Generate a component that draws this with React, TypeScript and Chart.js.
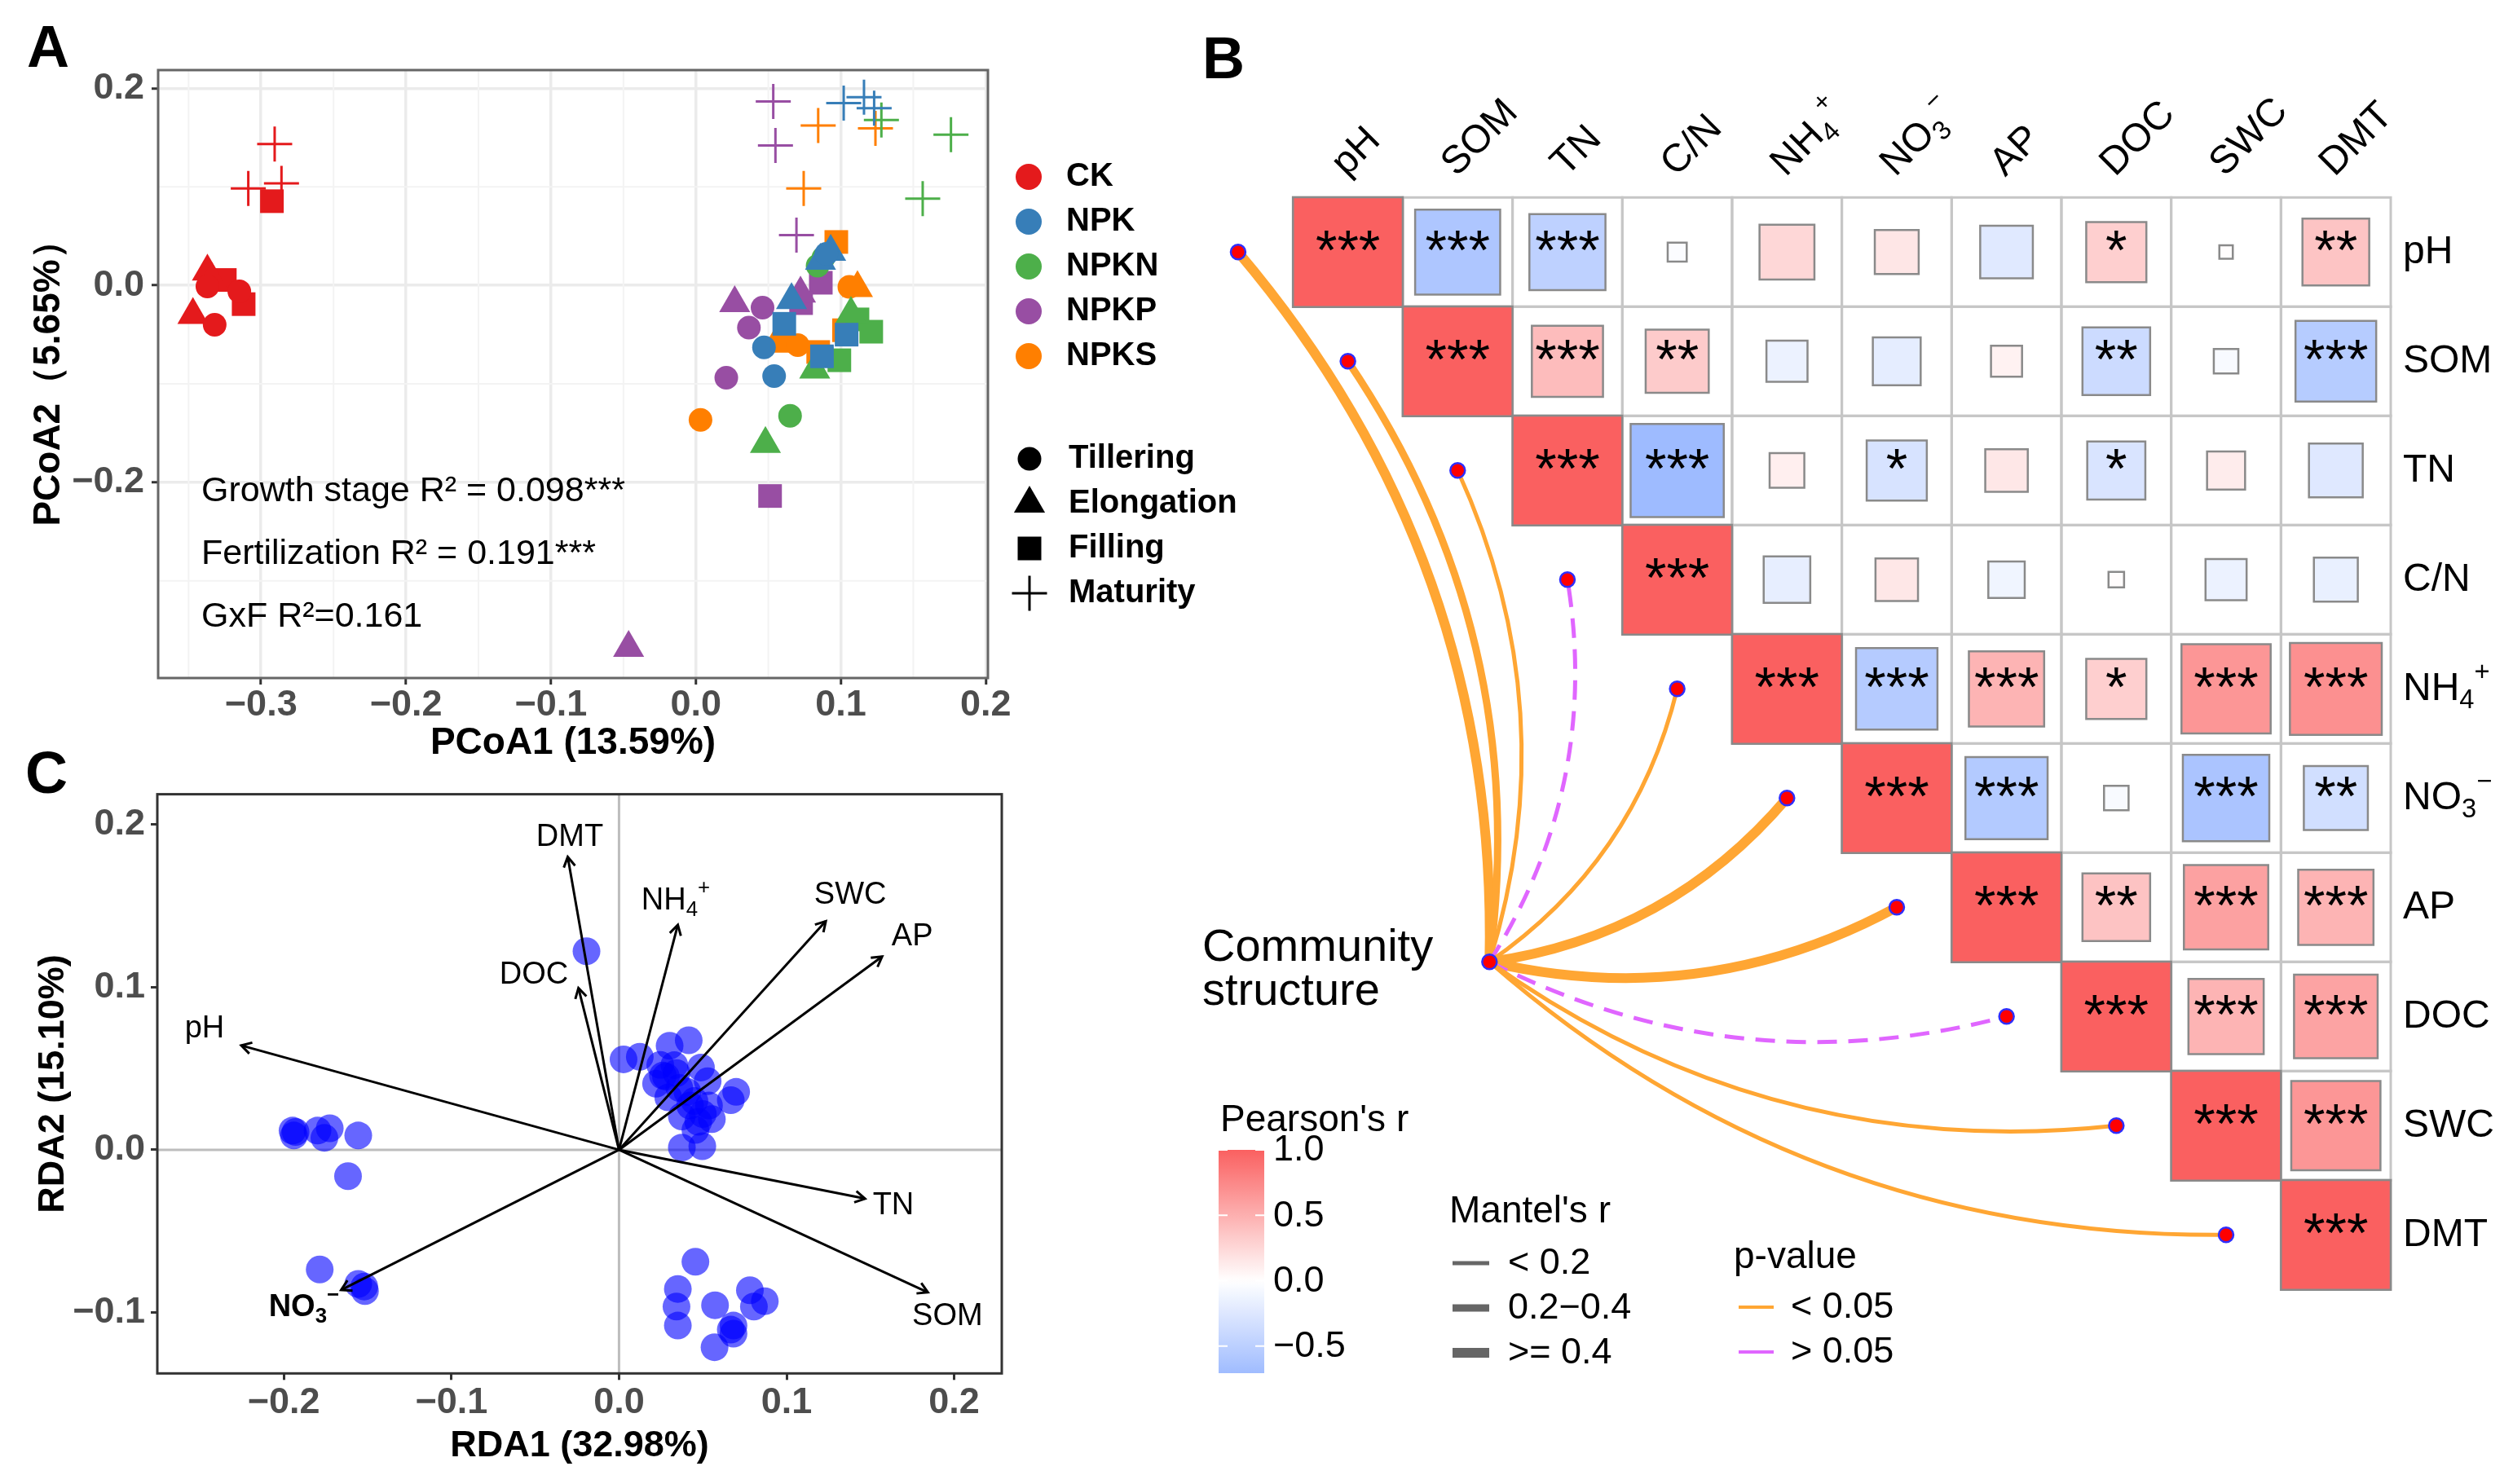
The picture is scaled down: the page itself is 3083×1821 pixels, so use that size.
import React, { useEffect, useRef } from 'react';
import { Chart, registerables } from 'chart.js';

Chart.register(...registerables);

const FONT = '"Liberation Sans", Arial, Helvetica, sans-serif';

/* =================== Panel A : PCoA =================== */
const pcoaGroups = ['CK', 'NPK', 'NPKN', 'NPKP', 'NPKS'];
const pcoaColors = ['#E41A1C', '#377EB8', '#4DAF4A', '#984EA3', '#FF7F00'];
const pcoaStages = ['Tillering', 'Elongation', 'Filling', 'Maturity'];
const pcoaXTicks = [-0.3, -0.2, -0.1, 0, 0.1, 0.2];
const pcoaXMinor = [-0.35, -0.25, -0.15, -0.05, 0.05, 0.15];
const pcoaYTicks = [-0.2, 0, 0.2];
const pcoaYMinor = [-0.3, -0.1, 0.1];
const pcoaXRange = [-0.371, 0.2015];
const pcoaYRange = [-0.3986, 0.2186];
// [PCoA1, PCoA2, stage index]
const pcoaCK = [
  [-0.337, -0.001, 0], [-0.315, -0.006, 0], [-0.332, -0.04, 0],
  [-0.337, 0.014, 1], [-0.347, -0.03, 1], [-0.334, 0.006, 1],
  [-0.2925, 0.0855, 2], [-0.325, 0.0055, 2], [-0.312, -0.019, 2],
  [-0.2906, 0.1435, 3], [-0.3088, 0.0985, 3], [-0.2859, 0.1035, 3],
];
const pcoaNPK = [
  [0.047, -0.063, 0], [0.054, -0.092, 0], [0.09, 0.032, 0],
  [0.086, 0.025, 1], [0.093, 0.034, 1], [0.066, -0.015, 1],
  [0.061, -0.039, 2], [0.087, -0.072, 2], [0.104, -0.05, 2],
  [0.102, 0.185, 3], [0.116, 0.191, 3], [0.123, 0.18, 3],
];
const pcoaNPKN = [
  [0.088, 0.028, 0], [0.065, -0.1325, 0], [0.084, 0.02, 0],
  [0.107, -0.029, 1], [0.082, -0.0855, 1], [0.048, -0.161, 1],
  [0.1115, -0.0345, 2], [0.121, -0.047, 2], [0.099, -0.076, 2],
  [0.128, 0.168, 3], [0.176, 0.153, 3], [0.1565, 0.088, 3],
];
const pcoaNPKP = [
  [0.046, -0.0226, 0], [0.0366, -0.0428, 0], [0.021, -0.0938, 0],
  [0.0268, -0.018, 1], [0.0722, -0.0083, 1], [-0.0464, -0.368, 1],
  [0.0862, 0.0027, 2], [0.0726, -0.018, 2], [0.0512, -0.2138, 2],
  [0.0534, 0.1868, 3], [0.0549, 0.1421, 3], [0.0694, 0.0511, 3],
];
const pcoaNPKS = [
  [0.1059, -0.0014, 0], [0.0703, -0.0607, 0], [0.0032, -0.1366, 0],
  [0.1115, -0.0028, 1], [0.0553, -0.0591, 1], [0.062, -0.058, 1],
  [0.0969, 0.0441, 2], [0.0844, -0.0676, 2], [0.1022, -0.0455, 2],
  [0.0844, 0.1623, 3], [0.0744, 0.0985, 3], [0.1239, 0.1595, 3],
];
const pcoaPoints = [pcoaCK, pcoaNPK, pcoaNPKN, pcoaNPKP, pcoaNPKS];
const pcoaNotes = ['Growth stage R\u00B2 = 0.098***', 'Fertilization R\u00B2 = 0.191***', 'GxF R\u00B2=0.161'];

/* =================== Panel C : RDA =================== */
const rdaXTicks = [-0.2, -0.1, 0, 0.1, 0.2];
const rdaYTicks = [-0.1, 0, 0.1, 0.2];
const rdaXRange = [-0.2755, 0.2284];
const rdaYRange = [-0.1374, 0.2185];
const rdaSites = [
  [-0.1948, 0.0118], [-0.194, 0.0088], [-0.193, 0.011], [-0.1799, 0.0118], [-0.1726, 0.0132],
  [-0.1758, 0.0074], [-0.1556, 0.0088], [-0.1617, -0.0162], [-0.1786, -0.0735], [-0.1556, -0.0824],
  [-0.1516, -0.0868], [-0.152, -0.084],
  [-0.0194, 0.122],
  [0.0027, 0.0556], [0.0124, 0.0572], [0.0302, 0.0639], [0.0416, 0.0673], [0.0246, 0.0522],
  [0.0262, 0.0456], [0.0221, 0.0406], [0.0489, 0.0506], [0.0529, 0.0422], [0.0294, 0.0322],
  [0.0408, 0.0356], [0.0699, 0.0356], [0.0667, 0.0305], [0.0537, 0.0272], [0.0375, 0.0205],
  [0.0473, 0.0172], [0.0554, 0.0189], [0.0456, 0.0122], [0.0375, 0.0014], [0.0497, 0.0022],
  [0.0343, 0.0472], [0.0424, 0.0272], [0.028, 0.045], [0.036, 0.038], [0.045, 0.03],
  [0.05, 0.022], [0.033, 0.052],
  [0.0456, -0.0688], [0.0351, -0.0855], [0.0343, -0.0963], [0.0351, -0.108], [0.0573, -0.0955],
  [0.057, -0.1213], [0.0683, -0.108], [0.0683, -0.113], [0.0667, -0.1105], [0.0781, -0.0863],
  [0.0805, -0.0963], [0.087, -0.093],
];
const rdaEnv = ['pH', 'DMT', 'DOC', 'NH4+', 'SWC', 'AP', 'TN', 'SOM', 'NO3-'];
const rdaEnvX = [-0.2254, -0.0306, -0.0242, 0.0351, 0.1234, 0.157, 0.1468, 0.1843, -0.1658];
const rdaEnvY = [0.0641, 0.18, 0.0994, 0.1382, 0.1405, 0.1188, -0.03, -0.0876, -0.0861];
const rdaLabX = [-0.2473, -0.0294, -0.0508, 0.0338, 0.138, 0.175, 0.1637, 0.196, -0.188];
const rdaLabY = [0.0741, 0.1918, 0.1074, 0.153, 0.1565, 0.131, -0.0345, -0.1024, -0.097];

/* =================== Panel B : correlogram + Mantel =================== */
const corVars = ['pH', 'SOM', 'TN', 'C/N', 'NH4+', 'NO3-', 'AP', 'DOC', 'SWC', 'DMT'];
// upper triangle rows, starting from the diagonal
const corPH = [1, -0.6, -0.48, -0.03, 0.25, 0.16, -0.23, 0.3, 0.015, 0.37];
const corSOM = [1, 0.42, 0.33, -0.14, -0.19, 0.08, -0.38, -0.05, -0.54];
const corTN = [1, -0.72, 0.1, -0.3, 0.15, -0.28, 0.12, -0.24];
const corCN = [1, -0.18, 0.15, -0.11, 0.02, -0.14, -0.16];
const corNH4 = [1, -0.55, 0.47, 0.3, 0.66, 0.7];
const corNO3 = [1, -0.56, -0.05, -0.62, -0.34];
const corAP = [1, 0.38, 0.59, 0.47];
const corDOC = [1, 0.47, 0.58];
const corSWC = [1, 0.66];
const corDMT = [1];
const corRows = [corPH, corSOM, corTN, corCN, corNH4, corNO3, corAP, corDOC, corSWC, corDMT];
const sigPH = ['***', '***', '***', '', '', '', '', '*', '', '**'];
const sigSOM = ['***', '***', '**', '', '', '', '**', '', '***'];
const sigTN = ['***', '***', '', '*', '', '*', '', ''];
const sigCN = ['***', '', '', '', '', '', ''];
const sigNH4 = ['***', '***', '***', '*', '***', '***'];
const sigNO3 = ['***', '***', '', '***', '**'];
const sigAP = ['***', '**', '***', '***'];
const sigDOC = ['***', '***', '***'];
const sigSWC = ['***', '***'];
const sigDMT = ['***'];
const sigRows = [sigPH, sigSOM, sigTN, sigCN, sigNH4, sigNO3, sigAP, sigDOC, sigSWC, sigDMT];
const mantelR = ['>= 0.4', '0.2-0.4', '< 0.2', '< 0.2', '< 0.2', '>= 0.4', '>= 0.4', '< 0.2', '< 0.2', '< 0.2'];
const mantelP = ['< 0.05', '< 0.05', '< 0.05', '> 0.05', '< 0.05', '< 0.05', '< 0.05', '> 0.05', '< 0.05', '< 0.05'];
const mantelRClasses = ['< 0.2', '0.2-0.4', '>= 0.4'];
const mantelRLabels = ['< 0.2', '0.2\u22120.4', '>= 0.4'];
const mantelPClasses = ['< 0.05', '> 0.05'];
const communityNode = [1.29, 6.5];
const pearsonTicks = [1.0, 0.5, 0.0, -0.5];
const pearsonLimits = [-0.707, 1.0];

/* =================== helpers =================== */
const RED = [250, 96, 96];
const BLUE = [120, 160, 255];
function corColor(r: number) {
  const c = r >= 0 ? RED : BLUE;
  const t = Math.min(1, Math.abs(r));
  const m = (k: number) => Math.round(255 + (c[k] - 255) * t);
  return `rgb(${m(0)},${m(1)},${m(2)})`;
}
function fmtTick(v: number) {
  if (Math.abs(v) < 1e-9) return '0.0';
  return (v < 0 ? '\u2212' : '') + Math.abs(v).toFixed(1);
}
function richParts(name: string) {
  if (name === 'NH4+') return [{ t: 'NH' }, { t: '4', sub: true }, { t: '+', sup: true }];
  if (name === 'NO3-') return [{ t: 'NO' }, { t: '3', sub: true }, { t: '\u2212', sup: true }];
  return [{ t: name }];
}
function drawRich(ctx: any, name: string, x: number, y: number, size: number, align: string, weight = 'normal', color = '#000') {
  const parts: any[] = richParts(name);
  const small = size * 0.68;
  const widths = parts.map((p) => {
    ctx.font = `${weight} ${p.sub || p.sup ? small : size}px ${FONT}`;
    return ctx.measureText(p.t).width;
  });
  const total = widths.reduce((a, b) => a + b, 0);
  let cx = align === 'center' ? x - total / 2 : x;
  ctx.textAlign = 'left';
  ctx.textBaseline = 'middle';
  ctx.fillStyle = color;
  parts.forEach((p, i) => {
    ctx.font = `${weight} ${p.sub || p.sup ? small : size}px ${FONT}`;
    const dy = p.sub ? size * 0.3 : p.sup ? -size * 0.4 : 0;
    ctx.fillText(p.t, cx, y + dy);
    cx += widths[i];
  });
}
function drawShape(ctx: any, style: string, x: number, y: number, r: number, color: string, lw: number) {
  ctx.beginPath();
  if (style === 'circle') {
    ctx.arc(x, y, r, 0, Math.PI * 2);
    ctx.fillStyle = color;
    ctx.fill();
  } else if (style === 'triangle') {
    ctx.moveTo(x, y - r);
    ctx.lineTo(x + r * Math.sin((2 * Math.PI) / 3), y + r * 0.5);
    ctx.lineTo(x - r * Math.sin((2 * Math.PI) / 3), y + r * 0.5);
    ctx.closePath();
    ctx.fillStyle = color;
    ctx.fill();
  } else if (style === 'rect') {
    const h = r * Math.SQRT1_2;
    ctx.rect(x - h, y - h, 2 * h, 2 * h);
    ctx.fillStyle = color;
    ctx.fill();
  } else {
    ctx.moveTo(x - r, y);
    ctx.lineTo(x + r, y);
    ctx.moveTo(x, y - r);
    ctx.lineTo(x, y + r);
    ctx.strokeStyle = color;
    ctx.lineWidth = lw;
    ctx.stroke();
  }
}
const stageStyles = ['circle', 'triangle', 'rect', 'cross'];
const stageRadius = [14.5, 22, 20.5, 21.5];

const baseOptions: any = {
  animation: false,
  responsive: false,
  devicePixelRatio: 1,
  events: [],
  plugins: { legend: { display: false }, tooltip: { enabled: false } },
};

/* =================== config builders =================== */
function configA(): any {
  const datasets: any[] = [];
  pcoaPoints.forEach((pts, g) => {
    pcoaStages.forEach((_, s) => {
      datasets.push({
        data: pts.filter((p) => p[2] === s).map((p) => ({ x: p[0], y: p[1] })),
        pointStyle: stageStyles[s],
        pointRadius: stageRadius[s],
        backgroundColor: s === 3 ? 'rgba(0,0,0,0)' : pcoaColors[g],
        borderColor: pcoaColors[g],
        borderWidth: s === 3 ? 3 : 0,
        showLine: false,
      });
    });
  });
  const tickFont = { family: FONT, size: 45, weight: 'bold', lineHeight: 1 };
  const plugin = {
    id: 'panelA',
    beforeDatasetsDraw(chart: any) {
      const { ctx, chartArea: a, scales } = chart;
      ctx.save();
      ctx.strokeStyle = '#F3F3F3';
      ctx.lineWidth = 2;
      pcoaXMinor.forEach((v) => {
        const x = scales.x.getPixelForValue(v);
        ctx.beginPath(); ctx.moveTo(x, a.top); ctx.lineTo(x, a.bottom); ctx.stroke();
      });
      pcoaYMinor.forEach((v) => {
        const y = scales.y.getPixelForValue(v);
        ctx.beginPath(); ctx.moveTo(a.left, y); ctx.lineTo(a.right, y); ctx.stroke();
      });
      ctx.restore();
    },
    afterDatasetsDraw(chart: any) {
      const { ctx, chartArea: a } = chart;
      ctx.save();
      ctx.strokeStyle = '#666666';
      ctx.lineWidth = 3;
      ctx.strokeRect(a.left, a.top, a.right - a.left, a.bottom - a.top);
      ctx.restore();
    },
    afterDraw(chart: any) {
      const { ctx, chartArea: a } = chart;
      ctx.save();
      ctx.fillStyle = '#000';
      ctx.textAlign = 'left';
      ctx.textBaseline = 'alphabetic';
      ctx.font = `bold 72px ${FONT}`;
      ctx.fillText('A', 33, 82);
      // notes
      ctx.font = `43px ${FONT}`;
      ctx.textBaseline = 'middle';
      pcoaNotes.forEach((t, i) => ctx.fillText(t, 247, 603 + i * 77));
      // axis titles
      ctx.font = `bold 46px ${FONT}`;
      ctx.textAlign = 'center';
      ctx.fillText('PCoA1 (13.59%)', (a.left + a.right) / 2, 912);
      ctx.save();
      ctx.translate(60, (a.top + a.bottom) / 2);
      ctx.rotate(-Math.PI / 2);
      ctx.fillText('PCoA2\uFF085.65%\uFF09', 0, 0);
      ctx.restore();
      // legends
      ctx.textAlign = 'left';
      ctx.font = `bold 40px ${FONT}`;
      pcoaGroups.forEach((g, i) => {
        const y = 217 + i * 55;
        drawShape(ctx, 'circle', 1262, y, 16, pcoaColors[i], 3);
        ctx.fillStyle = '#000';
        ctx.fillText(g, 1308, y);
      });
      pcoaStages.forEach((s, i) => {
        const y = 563 + i * 55;
        drawShape(ctx, stageStyles[i], 1263, y, stageRadius[i], '#000', 3);
        ctx.fillStyle = '#000';
        ctx.fillText(s, 1311, y);
      });
      ctx.restore();
    },
  };
  return {
    type: 'scatter',
    data: { datasets },
    options: {
      ...baseOptions,
      layout: { padding: { top: 86, right: 348, left: 0, bottom: 0 } },
      scales: {
        x: {
          type: 'linear', min: pcoaXRange[0], max: pcoaXRange[1],
          afterBuildTicks: (s: any) => { s.ticks = pcoaXTicks.map((v) => ({ value: v })); },
          afterFit: (s: any) => { s.height = 128; },
          ticks: { callback: (v: number) => fmtTick(v), font: tickFont, color: '#4D4D4D', padding: 3, maxRotation: 0, autoSkip: false },
          grid: { color: '#EBEBEB', lineWidth: 3.5, tickColor: '#333333', tickLength: 8, tickWidth: 3 },
          border: { display: false },
        },
        y: {
          type: 'linear', min: pcoaYRange[0], max: pcoaYRange[1],
          afterBuildTicks: (s: any) => { s.ticks = pcoaYTicks.map((v) => ({ value: v })); },
          afterFit: (s: any) => { s.width = 194; },
          ticks: { callback: (v: number) => fmtTick(v), font: tickFont, color: '#4D4D4D', padding: 9, autoSkip: false },
          grid: { color: '#EBEBEB', lineWidth: 3.5, tickColor: '#333333', tickLength: 8, tickWidth: 3 },
          border: { display: false },
        },
      },
    },
    plugins: [plugin],
  };
}

function configC(): any {
  const tickFont = { family: FONT, size: 45, weight: 'bold', lineHeight: 1 };
  const plugin = {
    id: 'panelC',
    beforeDatasetsDraw(chart: any) {
      const { ctx, chartArea: a, scales } = chart;
      ctx.save();
      ctx.strokeStyle = '#BDBDBD';
      ctx.lineWidth = 3;
      const x0 = scales.x.getPixelForValue(0);
      const y0 = scales.y.getPixelForValue(0);
      ctx.beginPath(); ctx.moveTo(x0, a.top); ctx.lineTo(x0, a.bottom); ctx.stroke();
      ctx.beginPath(); ctx.moveTo(a.left, y0); ctx.lineTo(a.right, y0); ctx.stroke();
      ctx.restore();
    },
    afterDatasetsDraw(chart: any) {
      const { ctx, chartArea: a, scales } = chart;
      ctx.save();
      const x0 = scales.x.getPixelForValue(0);
      const y0 = scales.y.getPixelForValue(0);
      ctx.strokeStyle = '#000';
      ctx.lineWidth = 3;
      rdaEnv.forEach((_, k) => {
        const x1 = scales.x.getPixelForValue(rdaEnvX[k]);
        const y1 = scales.y.getPixelForValue(rdaEnvY[k]);
        ctx.beginPath(); ctx.moveTo(x0, y0); ctx.lineTo(x1, y1); ctx.stroke();
        const ang = Math.atan2(y1 - y0, x1 - x0);
        const L = 14;
        ctx.beginPath();
        ctx.moveTo(x1 - L * Math.cos(ang - Math.PI / 6), y1 - L * Math.sin(ang - Math.PI / 6));
        ctx.lineTo(x1, y1);
        ctx.lineTo(x1 - L * Math.cos(ang + Math.PI / 6), y1 - L * Math.sin(ang + Math.PI / 6));
        ctx.stroke();
      });
      rdaEnv.forEach((name, k) => {
        const x = scales.x.getPixelForValue(rdaLabX[k]);
        const y = scales.y.getPixelForValue(rdaLabY[k]);
        drawRich(ctx, name, x, y, 38, 'center', name === 'NO3-' ? 'bold' : 'normal');
      });
      ctx.strokeStyle = '#333333';
      ctx.lineWidth = 3;
      ctx.strokeRect(a.left, a.top, a.right - a.left, a.bottom - a.top);
      ctx.restore();
    },
    afterDraw(chart: any) {
      const { ctx, chartArea: a } = chart;
      ctx.save();
      ctx.fillStyle = '#000';
      ctx.textAlign = 'left';
      ctx.textBaseline = 'alphabetic';
      ctx.font = `bold 72px ${FONT}`;
      ctx.fillText('C', 31, 73);
      ctx.font = `bold 45px ${FONT}`;
      ctx.textAlign = 'center';
      ctx.textBaseline = 'middle';
      ctx.fillText('RDA1 (32.98%)', (a.left + a.right) / 2, 875);
      ctx.save();
      ctx.translate(66, (a.top + a.bottom) / 2);
      ctx.rotate(-Math.PI / 2);
      ctx.fillText('RDA2 (15.10%)', 0, 0);
      ctx.restore();
      ctx.restore();
    },
  };
  return {
    type: 'scatter',
    data: {
      datasets: [{
        data: rdaSites.map((p) => ({ x: p[0], y: p[1] })),
        pointStyle: 'circle',
        pointRadius: 17,
        backgroundColor: 'rgba(0,0,255,0.6)',
        borderWidth: 0,
      }],
    },
    options: {
      ...baseOptions,
      layout: { padding: { top: 74.6, right: 211, left: 0, bottom: 0 } },
      scales: {
        x: {
          type: 'linear', min: rdaXRange[0], max: rdaXRange[1],
          afterBuildTicks: (s: any) => { s.ticks = rdaXTicks.map((v) => ({ value: v })); },
          afterFit: (s: any) => { s.height = 135.7; },
          ticks: { callback: (v: number) => fmtTick(v), font: tickFont, color: '#4D4D4D', padding: 6, maxRotation: 0, autoSkip: false },
          grid: { drawOnChartArea: false, tickColor: '#333333', tickLength: 8, tickWidth: 3 },
          border: { display: false },
        },
        y: {
          type: 'linear', min: rdaYRange[0], max: rdaYRange[1],
          afterBuildTicks: (s: any) => { s.ticks = rdaYTicks.map((v) => ({ value: v })); },
          afterFit: (s: any) => { s.width = 193; },
          ticks: { callback: (v: number) => fmtTick(v), font: tickFont, color: '#4D4D4D', padding: 7, autoSkip: false },
          grid: { drawOnChartArea: false, tickColor: '#333333', tickLength: 8, tickWidth: 3 },
          border: { display: false },
        },
      },
    },
    plugins: [plugin],
  };
}

const B_OFF_X = 1440;
const mantelWidth: any = { '< 0.2': 5, '0.2-0.4': 9, '>= 0.4': 12 };
const mantelColor: any = { '< 0.05': '#FFA633', '> 0.05': '#E066FF' };

function configB(): any {
  const n = corVars.length;
  const cells: any[] = [];
  corRows.forEach((row, i) => row.forEach((r, k) => cells.push({ x: i + k, y: i, r })));
  const ends: any[] = corVars.map((_, i) => ({ x: i - 1, y: i }));
  ends.push({ x: communityNode[0], y: communityNode[1] });
  const cellW = (chart: any) => Math.abs(chart.scales.x.getPixelForValue(1) - chart.scales.x.getPixelForValue(0));
  const plugin = {
    id: 'panelB',
    beforeDatasetsDraw(chart: any) {
      const { ctx, scales } = chart;
      const xs = scales.x, ys = scales.y;
      const cw = cellW(chart);
      const ch = Math.abs(ys.getPixelForValue(1) - ys.getPixelForValue(0));
      ctx.save();
      ctx.strokeStyle = '#C6C6C6';
      ctx.lineWidth = 3;
      for (let i = 0; i < n; i++) {
        for (let j = i; j < n; j++) {
          const cx = xs.getPixelForValue(j), cy = ys.getPixelForValue(i);
          ctx.strokeRect(cx - cw / 2, cy - ch / 2, cw, ch);
        }
      }
      // Mantel links
      const nx = xs.getPixelForValue(communityNode[0]);
      const ny = ys.getPixelForValue(communityNode[1]);
      const K = 0.19;
      for (let i = 0; i < n; i++) {
        const ex = xs.getPixelForValue(i - 1), ey = ys.getPixelForValue(i);
        const dx = ex - nx, dy = ey - ny;
        const qx = (nx + ex) / 2 - K * dy, qy = (ny + ey) / 2 + K * dx;
        ctx.beginPath();
        ctx.moveTo(nx, ny);
        ctx.quadraticCurveTo(qx, qy, ex, ey);
        ctx.lineWidth = mantelWidth[mantelR[i]];
        ctx.strokeStyle = mantelColor[mantelP[i]];
        ctx.setLineDash(mantelP[i] === '> 0.05' ? [24, 14] : []);
        ctx.lineCap = 'butt';
        ctx.stroke();
      }
      ctx.setLineDash([]);
      ctx.restore();
    },
    afterDatasetsDraw(chart: any) {
      const { ctx, scales } = chart;
      ctx.save();
      ctx.fillStyle = '#000';
      ctx.textAlign = 'center';
      ctx.textBaseline = 'middle';
      ctx.font = `68px ${FONT}`;
      sigRows.forEach((row, i) => row.forEach((s, k) => {
        if (!s) return;
        ctx.fillText(s, scales.x.getPixelForValue(i + k), scales.y.getPixelForValue(i) + 2);
      }));
      ctx.restore();
    },
    afterDraw(chart: any) {
      const { ctx, scales, chartArea: a } = chart;
      const xs = scales.x, ys = scales.y;
      const gridTop = ys.getPixelForValue(-0.5);
      const gridRight = xs.getPixelForValue(9.5);
      ctx.save();
      ctx.fillStyle = '#000';
      ctx.textAlign = 'left';
      ctx.textBaseline = 'alphabetic';
      ctx.font = `bold 72px ${FONT}`;
      ctx.fillText('B', 1475 - B_OFF_X, 96);
      // column labels
      corVars.forEach((v, j) => {
        ctx.save();
        ctx.translate(xs.getPixelForValue(j) - 11, gridTop - 34);
        ctx.rotate(-Math.PI / 4);
        drawRich(ctx, v, 0, 0, 48, 'left');
        ctx.restore();
      });
      // row labels
      corVars.forEach((v, i) => {
        drawRich(ctx, v, gridRight + 15, ys.getPixelForValue(i), 48, 'left');
      });
      // community label
      ctx.fillStyle = '#000';
      ctx.textAlign = 'left';
      ctx.textBaseline = 'middle';
      ctx.font = `56px ${FONT}`;
      ctx.fillText('Community', 1475 - B_OFF_X, 1164);
      ctx.fillText('structure', 1475 - B_OFF_X, 1218);
      // Pearson's r colorbar
      ctx.font = `46px ${FONT}`;
      ctx.textBaseline = 'alphabetic';
      ctx.fillText("Pearson's r", 1497 - B_OFF_X, 1388);
      const cbX0 = 1495 - B_OFF_X, cbX1 = 1551 - B_OFF_X, cbTop = 1411, cbBot = 1685;
      const lo = pearsonLimits[0], hi = pearsonLimits[1];
      const grad = ctx.createLinearGradient(0, cbTop, 0, cbBot);
      for (let k = 0; k <= 40; k++) {
        const v = hi - ((hi - lo) * k) / 40;
        grad.addColorStop(k / 40, corColor(v));
      }
      ctx.fillStyle = grad;
      ctx.fillRect(cbX0, cbTop, cbX1 - cbX0, cbBot - cbTop);
      const vy = (v: number) => cbTop + ((hi - v) / (hi - lo)) * (cbBot - cbTop);
      ctx.strokeStyle = '#FFFFFF';
      ctx.lineWidth = 2;
      pearsonTicks.forEach((v) => {
        const y = vy(v);
        ctx.beginPath();
        ctx.moveTo(cbX0, y); ctx.lineTo(cbX0 + 11, y);
        ctx.moveTo(cbX1 - 11, y); ctx.lineTo(cbX1, y);
        ctx.stroke();
      });
      ctx.fillStyle = '#000';
      ctx.font = `45px ${FONT}`;
      ctx.textBaseline = 'middle';
      pearsonTicks.forEach((v) => ctx.fillText(fmtTick(v), 1562 - B_OFF_X, vy(v) + 1));
      // Mantel's r legend
      ctx.font = `46px ${FONT}`;
      ctx.textBaseline = 'alphabetic';
      ctx.fillText("Mantel's r", 1778 - B_OFF_X, 1500);
      ctx.textBaseline = 'middle';
      ctx.font = `45px ${FONT}`;
      mantelRClasses.forEach((c, i) => {
        const y = 1550 + i * 55;
        ctx.strokeStyle = '#666666';
        ctx.lineWidth = mantelWidth[c];
        ctx.beginPath(); ctx.moveTo(1782 - B_OFF_X, y); ctx.lineTo(1827 - B_OFF_X, y); ctx.stroke();
        ctx.fillStyle = '#000';
        ctx.fillText(mantelRLabels[i], 1850 - B_OFF_X, y + 1);
      });
      // p-value legend
      ctx.font = `46px ${FONT}`;
      ctx.textBaseline = 'alphabetic';
      ctx.fillText('p-value', 2127 - B_OFF_X, 1556);
      ctx.textBaseline = 'middle';
      ctx.font = `45px ${FONT}`;
      mantelPClasses.forEach((c, i) => {
        const y = 1604 + i * 55;
        ctx.strokeStyle = mantelColor[c];
        ctx.lineWidth = 4;
        ctx.beginPath(); ctx.moveTo(2133 - B_OFF_X, y); ctx.lineTo(2176 - B_OFF_X, y); ctx.stroke();
        ctx.fillStyle = '#000';
        ctx.fillText(c, 2197 - B_OFF_X, y + 1);
      });
      ctx.restore();
    },
  };
  return {
    type: 'scatter',
    data: {
      datasets: [
        {
          data: cells,
          pointStyle: 'rect',
          pointRadius: (c: any) => (Math.sqrt(Math.abs(c.raw.r)) * cellW(c.chart)) / Math.SQRT2,
          backgroundColor: (c: any) => corColor(c.raw.r),
          borderColor: '#8A8A8A',
          borderWidth: 2.5,
          clip: false,
        },
        {
          data: ends,
          pointStyle: 'circle',
          pointRadius: 9,
          backgroundColor: '#FF0000',
          borderColor: '#2E2EFF',
          borderWidth: 2.5,
          clip: false,
        },
      ],
    },
    options: {
      ...baseOptions,
      layout: { padding: { left: 11.6, right: 150, top: 242.3, bottom: 238.7 } },
      scales: {
        x: { type: 'linear', min: -1.5, max: 9.5, display: false },
        y: { type: 'linear', min: -0.5, max: 9.5, reverse: true, display: false },
      },
    },
    plugins: [plugin],
  };
}

/* =================== components =================== */
function ChartBox(props: { left: number; top: number; width: number; height: number; make: () => any }) {
  const ref = useRef<HTMLCanvasElement | null>(null);
  useEffect(() => {
    if (!ref.current) return;
    const chart = new Chart(ref.current, props.make());
    return () => chart.destroy();
  }, []);
  return (
    <canvas
      ref={ref}
      width={props.width}
      height={props.height}
      style={{ position: 'absolute', left: props.left, top: props.top, width: props.width, height: props.height }}
    />
  );
}

export default function App() {
  return (
    <div style={{ position: 'absolute', left: 0, top: 0, width: 3083, height: 1821, background: '#FFFFFF', overflow: 'hidden' }}>
      <ChartBox left={0} top={0} width={1560} height={960} make={configA} />
      <ChartBox left={0} top={900} width={1440} height={921} make={configC} />
      <ChartBox left={B_OFF_X} top={0} width={1643} height={1821} make={configB} />
    </div>
  );
}
